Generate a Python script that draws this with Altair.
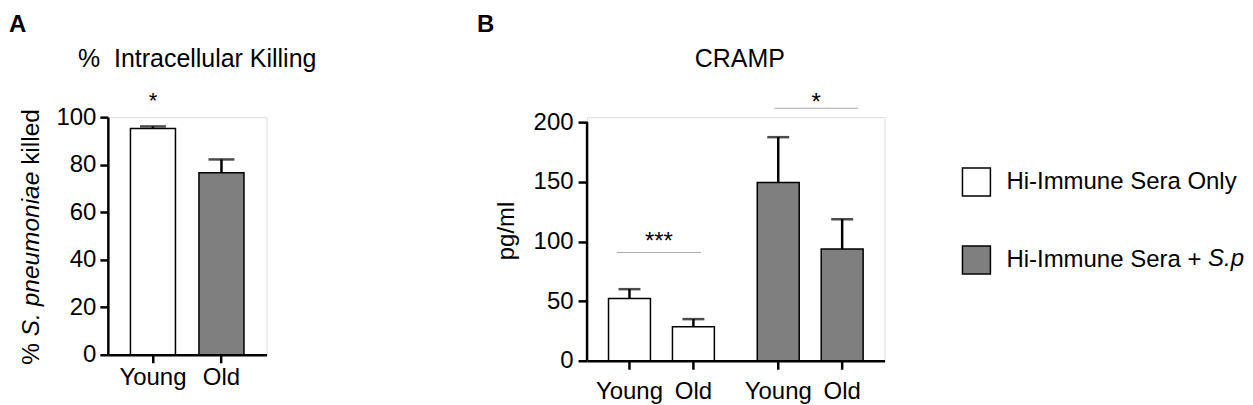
import altair as alt
import pandas as pd

FONT = "Liberation Sans"
GRAY = "#7f7f7f"

# ---------------- Panel A: % intracellular killing ----------------
a_age = ["Young", "Old"]
a_mean = [95.2, 76.6]
a_err = [0.9, 5.6]
a_star_age = ["Young"]
a_star_y = [103.9]
a_star_label = ["*"]
a_ticks = [0, 20, 40, 60, 80, 100]

# ---------------- Panel B: CRAMP (pg/ml) ----------------
b_groups = ["Hi-Immune Sera Only", "Hi-Immune Sera + S.pneumoniae"]
b_group = [b_groups[0], b_groups[0], b_groups[1], b_groups[1]]
b_age = ["Young", "Old", "Young", "Old"]
b_mean = [52.2, 28.5, 149.5, 93.7]
b_err = [7.8, 6.4, 37.9, 24.9]
b_sig_group = b_groups
b_sig_y = [90.7, 211.7]
b_sig_star_y = [93.6, 209.8]
b_sig_label = ["***", "*"]
b_ticks = [0, 50, 100, 150, 200]

dfa = pd.DataFrame({"age": a_age, "mean": a_mean, "err": a_err})
dfa["top"] = dfa["mean"] + dfa["err"]
dfa_star = pd.DataFrame({"age": a_star_age, "y": a_star_y, "label": a_star_label})

dfb = pd.DataFrame({"group": b_group, "age": b_age, "mean": b_mean, "err": b_err})
dfb["top"] = dfb["mean"] + dfb["err"]
dfb_sig = pd.DataFrame({"group": b_sig_group, "y": b_sig_y,
                        "sy": b_sig_star_y, "label": b_sig_label})

AH, AW = 238, 159
BH, BW = 244, 298
LW = 2.5


def note(text, x, y, size=24, align="center", baseline="alphabetic", **kw):
    return alt.Chart(pd.DataFrame({"label": [text]})).mark_text(
        align=align, baseline=baseline, fontSize=size, color="black", font=FONT, **kw
    ).encode(x=alt.value(x), y=alt.value(y), text="label:N")


# ---------- Panel A ----------
ax = alt.X("age:N", sort=a_age,
           scale=alt.Scale(domain=a_age, paddingInner=0.343, paddingOuter=0.33),
           axis=alt.Axis(title=None, labelAngle=0, labelFontSize=24, labelPadding=3,
                         labelColor="black", tickSize=8, tickWidth=LW, tickColor="black",
                         domainWidth=LW, domainColor="black", labelFont=FONT))
ay_scale = alt.Scale(domain=[0, 100], nice=False, zero=True)
ay_axis = alt.Axis(title=None, values=a_ticks, grid=False, labelFontSize=24, labelPadding=4,
                   labelColor="black", tickSize=8, tickWidth=LW, tickColor="black",
                   domainWidth=LW, domainColor="black", labelFont=FONT)

a_bars = alt.Chart(dfa).mark_bar(stroke="black", strokeWidth=1.5).encode(
    x=ax,
    y=alt.Y("mean:Q", scale=ay_scale, axis=ay_axis),
    fill=alt.Fill("age:N", scale=alt.Scale(domain=a_age, range=["white", GRAY]), legend=None),
)
a_err_rule = alt.Chart(dfa).mark_rule(strokeWidth=LW, color="black").encode(
    x=ax, y=alt.Y("mean:Q", scale=ay_scale, axis=ay_axis), y2="top:Q")
a_err_cap = alt.Chart(dfa).mark_tick(orient="horizontal", size=26, thickness=LW,
                                      color="black").encode(
    x=ax, y=alt.Y("top:Q", scale=ay_scale, axis=ay_axis))
a_star = alt.Chart(dfa_star).mark_text(fontSize=22, baseline="alphabetic", color="black",
                                       font=FONT).encode(
    x=ax, y=alt.Y("y:Q", scale=ay_scale, axis=ay_axis), text="label:N")

a_title = note("%\u00a0\u00a0Intracellular Killing", 89.5, -50.5, size=25)
a_letter = note("A", -99, -85.5, size=24, align="left", fontWeight="bold")
a_yl1 = note("%", -76, 248, size=24.5, align="left", baseline="middle", angle=270)
a_yl2 = note("S. pneumoniae", -76, 219.4, size=24.5, align="left", baseline="middle",
             angle=270, fontStyle="italic")
a_yl3 = note("killed", -76, 47.8, size=24.5, align="left", baseline="middle", angle=270)

panel_a = alt.layer(a_bars, a_err_rule, a_err_cap, a_star, a_title, a_letter,
                    a_yl1, a_yl2, a_yl3).properties(width=AW, height=AH)

# ---------- Panel B ----------
bx = alt.X("group:N", sort=b_groups,
           scale=alt.Scale(domain=b_groups, paddingInner=0.144, paddingOuter=0.072),
           axis=alt.Axis(title=None, labels=False, ticks=False, domain=True,
                         domainWidth=LW, domainColor="black"))
bxo = alt.XOffset("age:N", sort=["Young", "Old"],
                  scale=alt.Scale(domain=["Young", "Old"], paddingInner=0.344,
                                  paddingOuter=0.168))
by_scale = alt.Scale(domain=[0, BH / 1.195], nice=False, zero=True)
by_axis = alt.Axis(title=None, values=b_ticks, grid=False, domain=False, labelFontSize=24,
                   labelPadding=5, labelColor="black", tickSize=9, tickWidth=LW,
                   tickColor="black", labelFont=FONT)

b_legend = alt.Legend(
    title=None, orient="none", legendX=375, legendY=50, direction="vertical",
    symbolType="square", symbolSize=784, symbolStrokeColor="black",
    symbolStrokeWidth=1.5, labelFontSize=24, labelFont=FONT, labelColor="black",
    labelOffset=15, labelLimit=400, rowPadding=44, padding=0,
    labelExpr="replace(datum.label, ' S.pneumoniae', '')")

b_bars = alt.Chart(dfb).mark_bar(stroke="black", strokeWidth=1.5).encode(
    x=bx, xOffset=bxo,
    y=alt.Y("mean:Q", scale=by_scale, axis=by_axis),
    fill=alt.Fill("group:N", scale=alt.Scale(domain=b_groups, range=["white", GRAY]),
                  legend=b_legend),
)
b_err_rule = alt.Chart(dfb).mark_rule(strokeWidth=LW, color="black").encode(
    x=bx, xOffset=bxo, y=alt.Y("mean:Q", scale=by_scale, axis=by_axis), y2="top:Q")
b_err_cap = alt.Chart(dfb).mark_tick(orient="horizontal", size=22, thickness=LW,
                                      color="black").encode(
    x=bx, xOffset=bxo, y=alt.Y("top:Q", scale=by_scale, axis=by_axis))
b_xticks = alt.Chart(dfb).mark_rule(strokeWidth=LW, color="black").encode(
    x=bx, xOffset=bxo, y=alt.value(BH), y2=alt.value(BH + 9))
b_xlabels = alt.Chart(dfb).mark_text(fontSize=24, baseline="alphabetic", color="black",
                                     font=FONT).encode(
    x=bx, xOffset=bxo, y=alt.value(BH + 38), text="age:N")
b_ydomain = alt.Chart(pd.DataFrame({"lo": [b_ticks[0]], "hi": [b_ticks[-1]]})).mark_rule(
    strokeWidth=LW, color="black").encode(
    x=alt.value(0), y=alt.Y("lo:Q", scale=by_scale, axis=by_axis), y2="hi:Q")

sig_layers = []
for i, shift in enumerate([-2.5, 6]):
    d = dfb_sig.iloc[[i]]
    sig_layers.append(alt.Chart(d).mark_tick(orient="horizontal", size=84, thickness=1,
                                            color="#8a8a8a", xOffset=shift).encode(
        x=bx, y=alt.Y("y:Q", scale=by_scale, axis=by_axis)))
    sig_layers.append(alt.Chart(d).mark_text(fontSize=24, baseline="alphabetic",
                                            color="black", font=FONT,
                                            xOffset=shift).encode(
        x=bx, y=alt.Y("sy:Q", scale=by_scale, axis=by_axis), text="label:N"))

b_title = note("CRAMP", 153, -50.5, size=25)
b_letter = note("B", -110.3, -85.5, size=24, align="left", fontWeight="bold")
b_ylabel = note("pg/ml", -80.3, 114, size=24, align="center", baseline="middle", angle=270)
b_leg_italic = note("S.pneumoniae", 622, 149, size=24, align="left",
                    fontStyle="italic", limit=36.5, ellipsis="\u200b")

panel_b = alt.layer(b_bars, b_err_rule, b_err_cap, b_xticks, b_xlabels, b_ydomain,
                    *sig_layers, b_title, b_letter, b_ylabel, b_leg_italic).properties(
    width=BW, height=BH)

chart = alt.hconcat(panel_a, panel_b, spacing=321, bounds="flush").resolve_scale(
    fill="independent"
).resolve_legend(fill="independent").properties(
    padding={"left": 0, "top": 4, "right": 0, "bottom": 0}
).configure_view(stroke=None).configure(font=FONT, background="white")

chart.save("out.html", embed_options={"renderer": "svg", "actions": False})
